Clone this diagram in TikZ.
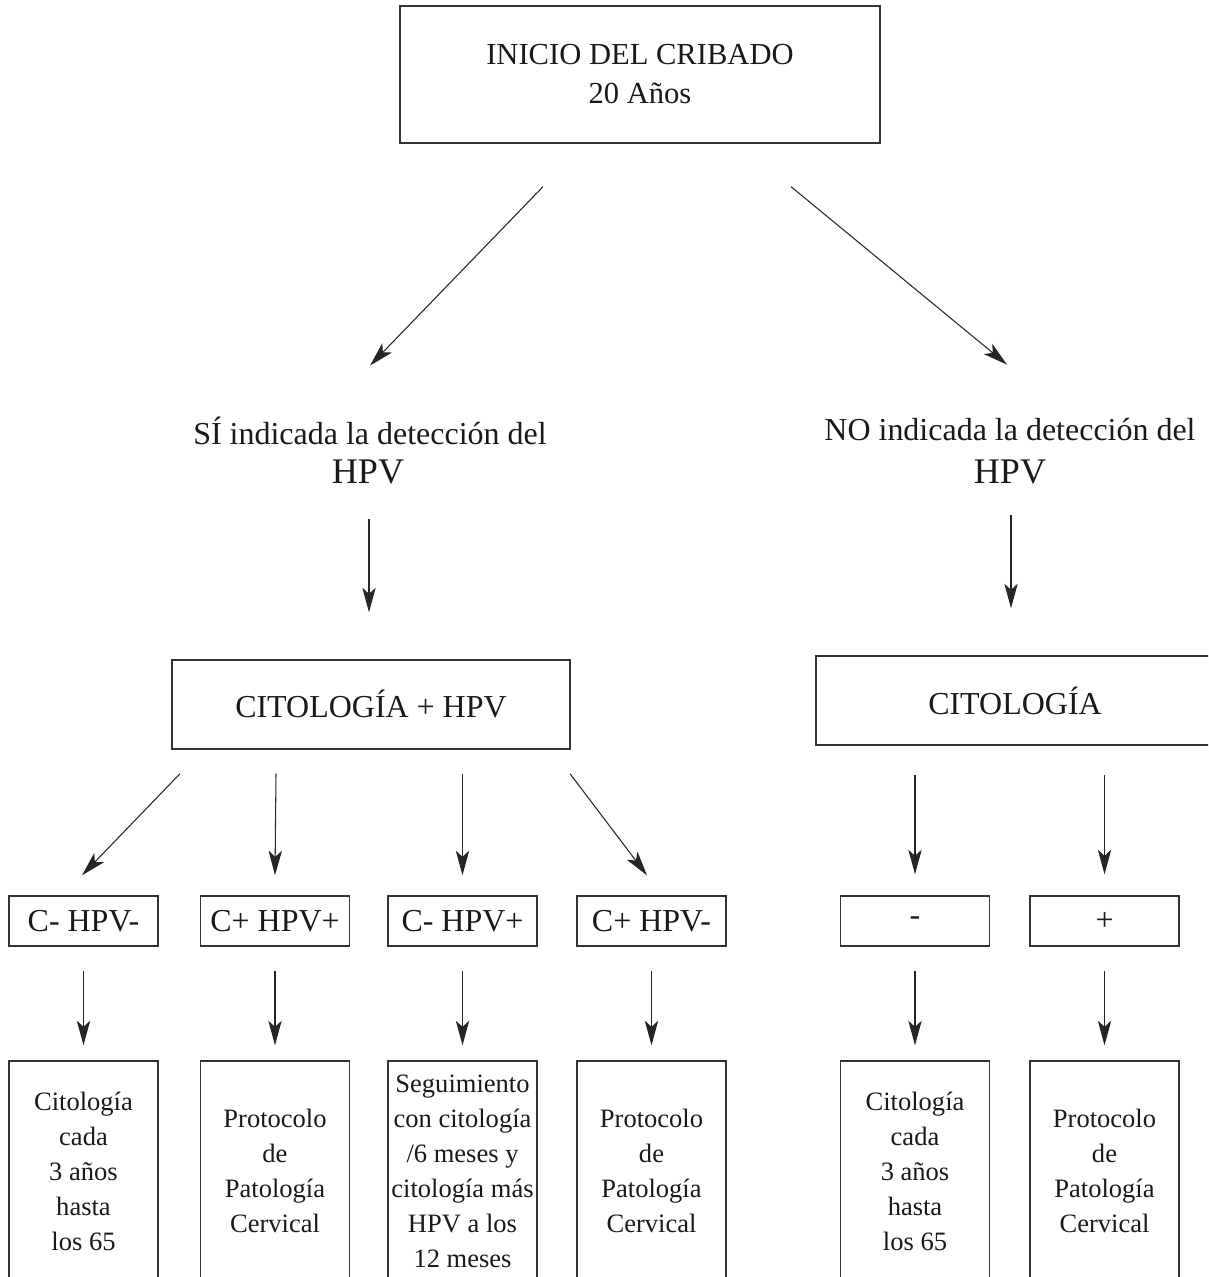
\documentclass[tikz,border=0pt]{standalone}
\usepackage{fontspec}
\setmainfont{Liberation Serif}
\usetikzlibrary{arrows.meta}

\begin{document}
\begin{tikzpicture}[
    x=0.02cm, y=-0.02cm,
    box/.style={rectangle, draw=black!80, line width=0.8pt, align=center,
                inner sep=0pt, text=black!90, font=\fontsize{18.2}{22}\selectfont},
    start/.style={box, minimum width=9.6cm, minimum height=2.74cm,
                  font=\fontsize{17.4}{22.2}\selectfont},
    test/.style={box, minimum width=7.96cm, minimum height=1.78cm},
    res/.style={box, minimum width=2.98cm, minimum height=1.0cm},
    act/.style={box, minimum width=2.98cm, minimum height=4.4cm,
                font=\fontsize{15.1}{19.9}\selectfont},
    lbl/.style={anchor=base, inner sep=0pt, text=black!90,
                font=\fontsize{18.2}{22}\selectfont},
    big/.style={lbl, font=\fontsize{20.5}{24}\selectfont},
    arr/.style={draw=black!85, line width=0.6pt,
                -{Stealth[length=14pt, width=7.6pt, inset=3.5pt]}}
]
    \clip (0,0) rectangle (1208,1277);

    \node[start] (inicio) at (640,74.5) {INICIO DEL CRIBADO\\20 Años};

    \node[lbl] (si)    at (370,444.6) {SÍ indicada la detección del};
    \node[big] (sihpv) at (368,483)   {HPV};
    \node[lbl] (no)    at (1010,440.6) {NO indicada la detección del};
    \node[big] (nohpv) at (1010,483)   {HPV};

    \draw[arr] ([shift={(-97,43)}]inicio.south) -- ([shift={(0,-79)}]si.base);
    \draw[arr] ([shift={(151,43)}]inicio.south) -- ([shift={(-3,-76)}]no.base);

    \node[test] (cithpv) at (371,704.5)  {CITOLOGÍA + HPV};
    \node[test] (cit)    at (1015,700.5) {CITOLOGÍA};

    \draw[arr] ([shift={(1,36)}]sihpv.base) -- ([shift={(-2,-47)}]cithpv.north);
    \draw[arr] ([shift={(1,32)}]nohpv.base) -- ([shift={(-4,-47)}]cit.north);

    \node[res] (rnn) at (83.5,921)  {C- HPV-};
    \node[res] (rpp) at (275,921)   {C+ HPV+};
    \node[res] (rnp) at (462.5,921) {C- HPV+};
    \node[res] (rpn) at (651.5,921) {C+ HPV-};
    \node[res] (rneg) at (915,921)    {-};
    \node[res] (rpos) at (1104.5,921) {+};

    \draw[arr] ([shift={(-191,24)}]cithpv.south) -- ([shift={(-1.5,-20)}]rnn.north);
    \draw[arr] ([shift={(-95,24)}]cithpv.south)  -- ([shift={(0,-20)}]rpp.north);
    \draw[arr] ([shift={(91.5,24)}]cithpv.south) -- ([shift={(0,-20)}]rnp.north);
    \draw[arr] ([shift={(199,24)}]cithpv.south)  -- ([shift={(-4.5,-20)}]rpn.north);
    \draw[arr] ([shift={(-100,29)}]cit.south)    -- ([shift={(0,-21)}]rneg.north);
    \draw[arr] ([shift={(89.5,29)}]cit.south)    -- ([shift={(0,-21)}]rpos.north);

    \node[act] (ann) at (83.5,1171)  {Citología\\cada\\3 años\\hasta\\los 65};
    \node[act] (app) at (275,1171)   {Protocolo\\de\\Patología\\Cervical};
    \node[act] (anp) at (462.5,1171) {Seguimiento\\con citología\\/6 meses y\\citología más\\HPV a los\\12 meses};
    \node[act] (apn) at (651.5,1171) {Protocolo\\de\\Patología\\Cervical};
    \node[act] (aneg) at (915,1171)    {Citología\\cada\\3 años\\hasta\\los 65};
    \node[act] (apos) at (1104.5,1171) {Protocolo\\de\\Patología\\Cervical};

    \draw[arr] ([yshift=-24*0.02cm]rnn.south) -- ([yshift=15*0.02cm]ann.north);
    \draw[arr] ([yshift=-24*0.02cm]rpp.south) -- ([yshift=15*0.02cm]app.north);
    \draw[arr] ([yshift=-24*0.02cm]rnp.south) -- ([yshift=15*0.02cm]anp.north);
    \draw[arr] ([yshift=-24*0.02cm]rpn.south) -- ([yshift=15*0.02cm]apn.north);
    \draw[arr] ([yshift=-24*0.02cm]rneg.south) -- ([yshift=15*0.02cm]aneg.north);
    \draw[arr] ([yshift=-24*0.02cm]rpos.south) -- ([yshift=15*0.02cm]apos.north);
\end{tikzpicture}
\end{document}
